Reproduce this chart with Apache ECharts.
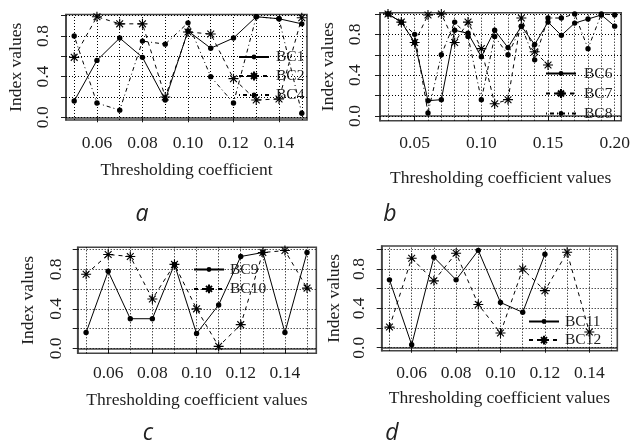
<!DOCTYPE html>
<html>
<head>
<meta charset="utf-8">
<script src="https://cdn.jsdelivr.net/npm/echarts@6/dist/echarts.min.js"></script>
<style>
  html, body { margin: 0; padding: 0; background: #fff; }
  #chart { width: 633px; height: 445px; }
</style>
</head>
<body>
<div id="chart"></div>
<script>
// x values of the four panels
const xA = [0.05, 0.06, 0.07, 0.08, 0.09, 0.10, 0.11, 0.12, 0.13, 0.14, 0.15];
const xB = [0.03, 0.04, 0.05, 0.06, 0.07, 0.08, 0.09, 0.10, 0.11, 0.12, 0.13, 0.14, 0.15, 0.16, 0.17, 0.18, 0.19, 0.20];
const xC = [0.05, 0.06, 0.07, 0.08, 0.09, 0.10, 0.11, 0.12, 0.13, 0.14, 0.15];
const xD = [0.05, 0.06, 0.07, 0.08, 0.09, 0.10, 0.11, 0.12, 0.13, 0.14];

// panel a
const bc1 = [0.16, 0.56, 0.78, 0.59, 0.17, 0.85, 0.68, 0.78, 0.99, 0.97, 0.92];
const bc2 = [0.59, 0.99, 0.92, 0.92, 0.20, 0.84, 0.82, 0.38, 0.17, 0.18, 0.98];
const bc4 = [0.80, 0.14, 0.07, 0.75, 0.72, 0.93, 0.40, 0.14, 0.99, 0.97, 0.04];

// panel b
const bc6 = [1.00, 0.92, 0.72, 0.15, 0.16, 0.84, 0.81, 0.58, 0.84, 0.67, 0.88, 0.70, 0.92, 0.79, 0.91, 0.95, 0.99, 0.88];
const bc7 = [1.00, 0.92, 0.72, 0.99, 1.00, 0.72, 0.92, 0.66, 0.12, 0.16, 0.96, 0.63, 0.50];
const bc8 = [1.00, 0.92, 0.80, 0.03, 0.60, 0.92, 0.78, 0.16, 0.78, 0.60, 0.88, 0.55, 0.96, 0.96, 1.00, 0.66, 1.00, 0.99];

// panel c
const bc9 = [0.16, 0.78, 0.30, 0.30, 0.85, 0.15, 0.44, 0.93, 0.97, 0.16, 0.97];
const bc10 = [0.75, 0.95, 0.93, 0.50, 0.85, 0.40, 0.02, 0.24, 0.97, 0.99, 0.61];

// panel d
const bc11 = [0.69, 0.03, 0.92, 0.69, 0.99, 0.46, 0.36, 0.95];
const bc12 = [0.21, 0.91, 0.68, 0.96, 0.44, 0.15, 0.80, 0.58, 0.97, 0.16];

// ticks, labels and grid lines
const xTicks = [0.06, 0.08, 0.10, 0.12, 0.14];
const xTicksB = [0.05, 0.10, 0.15, 0.20];
const yTicks = [0, 0.2, 0.4, 0.6, 0.8, 1.0];
const yLabels = [0, 0.4, 0.8];
const gridX = [0.05, 0.06, 0.07, 0.08, 0.09, 0.10, 0.11, 0.12, 0.13, 0.14, 0.15];
const gridXB = xB;
const gridY = [0, 0.2, 0.4, 0.6, 0.8, 1.0];

const serif = 'Liberation Serif';
const ink = '#1e1e1e';
// R-style asterisk (pch 8) and a small dot padded inside a 10x10 box
const starPath = 'path://M5,0L5,10M0,5L10,5M1.6,1.6L8.4,8.4M1.6,8.4L8.4,1.6';
const dotPath = 'path://M0,0M10,10M5,2.3A2.7,2.7,0,1,1,5,7.7A2.7,2.7,0,1,1,5,2.3Z';

function pairs(xs, ys) {
    return ys.map((y, i) => [xs[i], y]);
}

function gridLines(xs) {
    return {
        silent: true,
        symbol: 'none',
        label: { show: false },
        lineStyle: { color: '#000', width: 1, type: [1, 2] },
        data: xs.map(v => ({ xAxis: v })).concat(gridY.map(v => ({ yAxis: v })))
    };
}

function xAxisOf(idx, min, max, ticks, margin, name, gap) {
    return {
        gridIndex: idx, type: 'value', min: min, max: max,
        axisLine: { show: true, lineStyle: { color: '#444', width: 1.6 } },
        axisTick: { show: true, length: 5, customValues: ticks, lineStyle: { color: ink } },
        axisLabel: { customValues: ticks, formatter: v => v.toFixed(2), margin: margin,
            fontFamily: serif, fontSize: 17.5, color: ink },
        splitLine: { show: false },
        name: name, nameLocation: 'middle', nameGap: gap,
        nameTextStyle: { fontFamily: serif, fontSize: 17.5, color: ink }
    };
}

function yAxisOf(idx, min, max, margin, gap) {
    return {
        gridIndex: idx, type: 'value', min: min, max: max,
        axisLine: { show: true, lineStyle: { color: '#444', width: 1.6 } },
        axisTick: { show: true, length: 5, customValues: yTicks, lineStyle: { color: ink } },
        axisLabel: { customValues: yLabels, formatter: v => v.toFixed(1), rotate: 90, margin: margin,
            fontFamily: serif, fontSize: 17.5, color: ink },
        splitLine: { show: false },
        name: 'Index values', nameLocation: 'middle', nameGap: gap, nameRotate: 90,
        nameTextStyle: { fontFamily: serif, fontSize: 17.5, color: ink }
    };
}

function dotSeries(name, idx, xs, ys, dash, extra) {
    return Object.assign({
        name: name, type: 'line', xAxisIndex: idx, yAxisIndex: idx,
        data: pairs(xs, ys),
        symbol: dotPath, symbolSize: 10, showAllSymbol: true,
        itemStyle: { color: '#000' },
        lineStyle: { color: '#000', width: 1, type: dash }
    }, extra || {});
}

function starSeries(name, idx, xs, ys, dash) {
    return {
        name: name, type: 'line', xAxisIndex: idx, yAxisIndex: idx,
        data: pairs(xs, ys),
        symbol: starPath, symbolSize: 10, showAllSymbol: true,
        itemStyle: { color: '#000', borderColor: '#000', borderWidth: 1.1 },
        lineStyle: { color: '#000', width: 1, type: dash }
    };
}

function legendOf(names, left, top, gap, pad) {
    return {
        data: names, orient: 'vertical', left: left, top: top,
        itemWidth: 30, itemHeight: 11, itemGap: gap, selectedMode: false,
        textStyle: { fontFamily: serif, fontSize: 15.5, color: ink, padding: [0, 0, 0, pad] }
    };
}

const dashed = [4, 4];
const dotdash = [1, 3, 4, 3];

const option = {
    animation: false,
    backgroundColor: '#fff',
    grid: [
        { left: 66, top: 14.5, width: 241, height: 105.5, show: true, borderColor: '#444', borderWidth: 1.6 },
        { left: 380, top: 12.7, width: 243.3, height: 108, show: true, borderColor: '#444', borderWidth: 1.6 },
        { left: 77.7, top: 247.3, width: 238.6, height: 106, show: true, borderColor: '#444', borderWidth: 1.6 },
        { left: 381.7, top: 246, width: 235.6, height: 104.7, show: true, borderColor: '#444', borderWidth: 1.6 }
    ],
    xAxis: [
        xAxisOf(0, 0.0464, 0.1523, xTicks, 14, 'Thresholding coefficient', 41),
        xAxisOf(1, 0.024, 0.2049, xTicksB, 13.5, 'Thresholding coefficient values', 48.5),
        xAxisOf(2, 0.0462, 0.1542, xTicks, 11, 'Thresholding coefficient values', 38),
        xAxisOf(3, 0.0465, 0.1526, xTicks, 13.5, 'Thresholding coefficient values', 38.5)
    ],
    yAxis: [
        yAxisOf(0, -0.027, 1.012, 14, 41),
        yAxisOf(1, -0.046, 1.012, 16, 43),
        yAxisOf(2, -0.05, 1.023, 12, 40.6),
        yAxisOf(3, -0.03, 1.034, 13.6, 38.6)
    ],
    legend: [
        legendOf(['BC1', 'BC2', 'BC4'], 233, 44, 3, 2),
        legendOf(['BC6', 'BC7', 'BC8'], 540, 60.5, 4, 3),
        legendOf(['BC9', 'BC10'], 188, 256.5, 3.4, 1),
        legendOf(['BC11', 'BC12'], 523, 308.5, 2.6, 1)
    ],
    graphic: [
        { type: 'text', x: 142, y: 214, style: { text: 'a', fill: '#222', font: 'italic 23px "Open Sans"', align: 'center', verticalAlign: 'middle', textAlign: 'center', textVerticalAlign: 'middle' } },
        { type: 'text', x: 390, y: 214, style: { text: 'b', fill: '#222', font: 'italic 23px "Open Sans"', align: 'center', verticalAlign: 'middle', textAlign: 'center', textVerticalAlign: 'middle' } },
        { type: 'text', x: 148, y: 433, style: { text: 'c', fill: '#222', font: 'italic 23px "Open Sans"', align: 'center', verticalAlign: 'middle', textAlign: 'center', textVerticalAlign: 'middle' } },
        { type: 'text', x: 392, y: 433, style: { text: 'd', fill: '#222', font: 'italic 23px "Open Sans"', align: 'center', verticalAlign: 'middle', textAlign: 'center', textVerticalAlign: 'middle' } }
    ],
    series: [
        dotSeries('BC1', 0, xA, bc1, 'solid', { markLine: gridLines(gridX) }),
        starSeries('BC2', 0, xA, bc2, dashed),
        dotSeries('BC4', 0, xA, bc4, dotdash),

        dotSeries('BC6', 1, xB, bc6, 'solid', { markLine: gridLines(gridXB) }),
        starSeries('BC7', 1, xB, bc7, dashed),
        dotSeries('BC8', 1, xB, bc8, dotdash),

        dotSeries('BC9', 2, xC, bc9, 'solid', { markLine: gridLines(gridX) }),
        starSeries('BC10', 2, xC, bc10, dashed),

        dotSeries('BC11', 3, xD, bc11, 'solid', { markLine: gridLines(gridX) }),
        starSeries('BC12', 3, xD, bc12, dashed)
    ]
};

const chart = echarts.init(document.getElementById('chart'));
chart.setOption(option);
</script>
</body>
</html>
